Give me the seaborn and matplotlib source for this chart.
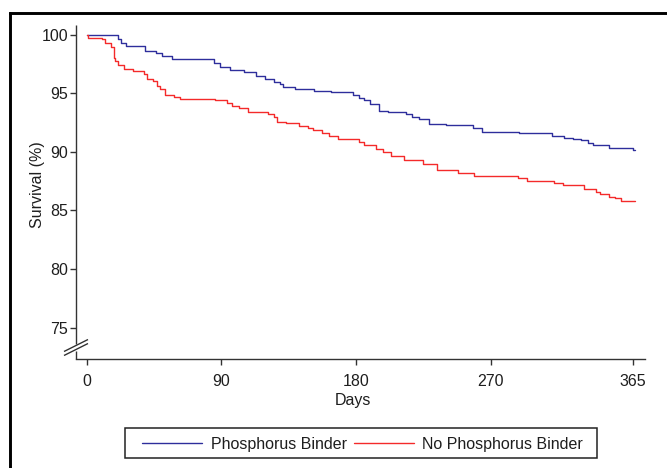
import matplotlib
matplotlib.use("Agg")
import matplotlib.pyplot as plt
from matplotlib.lines import Line2D
from matplotlib.patches import Rectangle
import seaborn as sns
import pandas as pd

# ---- data ----
binder_days = [0, 21, 23, 26, 39, 46, 50, 57, 85, 89, 96, 105, 113, 119, 125, 129, 131, 139,
               152, 163, 178, 182, 185, 189, 195, 201, 213, 217, 222, 229, 240, 258, 264,
               289, 311, 319, 325, 330, 335, 338, 349, 365, 366]
binder_surv = [100, 99.6, 99.25, 99.05, 98.6, 98.4, 98.17, 97.88, 97.55, 97.25, 96.97, 96.77,
               96.49, 96.2, 95.98, 95.75, 95.55, 95.33, 95.21, 95.07, 94.84, 94.62, 94.4, 94.1,
               93.5, 93.37, 93.2, 92.95, 92.8, 92.37, 92.28, 92.07, 91.71, 91.58, 91.37, 91.2,
               91.09, 91.0, 90.78, 90.58, 90.3, 90.15, 90.15]

nobinder_days = [0, 1, 10, 12, 16, 18, 19, 21, 25, 31, 38, 40, 44, 47, 49, 52, 58, 62, 86, 94,
                 97, 102, 108, 121, 125, 127, 133, 142, 148, 151, 157, 162, 168, 182, 185, 193,
                 198, 203, 212, 225, 234, 248, 259, 288, 294, 312, 318, 332, 340, 343, 349,
                 353, 357, 366]
nobinder_surv = [100, 99.73, 99.6, 99.25, 98.96, 97.97, 97.77, 97.4, 97.06, 96.9, 96.63, 96.2,
                 96.04, 95.6, 95.33, 94.84, 94.64, 94.5, 94.42, 94.2, 93.93, 93.76, 93.42, 93.2,
                 93.0, 92.57, 92.48, 92.23, 92.0, 91.86, 91.58, 91.37, 91.09, 90.86, 90.58, 90.2,
                 89.95, 89.64, 89.3, 88.96, 88.45, 88.17, 87.96, 87.74, 87.54, 87.37, 87.17,
                 86.83, 86.6, 86.38, 86.17, 86.04, 85.81, 85.81]

series_labels = ["Phosphorus Binder", "No Phosphorus Binder"]
series_colors = ["#2e2e9c", "#f42a2a"]
x_ticks = [0, 90, 180, 270, 365]
y_ticks = [75, 80, 85, 90, 95, 100]

df = pd.concat([
    pd.DataFrame({"Days": binder_days, "Survival": binder_surv, "group": series_labels[0]}),
    pd.DataFrame({"Days": nobinder_days, "Survival": nobinder_surv, "group": series_labels[1]}),
], ignore_index=True)

sns.set_theme(style="white")
plt.rcParams["font.family"] = ["Liberation Sans", "DejaVu Sans"]
FS = 11.5
plt.rcParams["font.size"] = FS

W, H = 667, 468
fig = plt.figure(figsize=(W / 100, H / 100), dpi=100)
ax = fig.add_axes([76 / W, 1 - 359 / H, (645 - 76) / W, (359 - 25) / H])

sns.lineplot(data=df, x="Days", y="Survival", hue="group", hue_order=series_labels,
             palette=dict(zip(series_labels, series_colors)), estimator=None, sort=False,
             drawstyle="steps-post", linewidth=1.0, legend=False, ax=ax)

ax.set_xlim(-7.15, 373.0)
ax.set_ylim(72.34, 100.81)
ax.set_xticks(x_ticks)
ax.set_yticks(y_ticks)
ax.set_xticklabels([str(t) for t in x_ticks])
ax.set_yticklabels([str(t) for t in y_ticks])

txt_col = "#1e1e1e"
ax.tick_params(axis="both", direction="out", length=4.5, width=1.0, color="#333333",
               labelsize=FS, labelcolor=txt_col, bottom=True, left=True)
ax.tick_params(axis="y", pad=1)
ax.tick_params(axis="x", pad=6)

for s in ["top", "right", "left"]:
    ax.spines[s].set_visible(False)
ax.spines["bottom"].set_color("#333333")
ax.spines["bottom"].set_linewidth(1.0)

# left axis with break
ax_h = 359 - 25
ax_w = 645 - 76
def ay(py):
    return (359 - py) / ax_h
spine_kw = dict(transform=ax.transAxes, color="#333333", linewidth=1.0, clip_on=False,
                solid_capstyle="butt")
ax.plot([0, 0], [ay(344), 1.0], **spine_kw)
ax.plot([0, 0], [0, ay(351)], **spine_kw)
for cy in (345.5, 349.5):
    ax.plot([-12 / ax_w, 12 / ax_w], [ay(cy + 6), ay(cy - 6)], **spine_kw)

ax.set_xlabel("Days", fontsize=FS, color=txt_col)
ax.set_ylabel("Survival (%)", fontsize=FS, color=txt_col)
ax.xaxis.set_label_coords((353 - 76) / ax_w, (359 - 393) / ax_h)
ax.yaxis.set_label_coords((45 - 76) / ax_w, (359 - 184.5) / ax_h)

# legend
handles = [Line2D([], [], color=c, linewidth=1.0) for c in series_colors]
fig.legend(handles, series_labels, loc="center", bbox_to_anchor=(362.5 / W, 1 - 444 / H),
           ncol=2, frameon=False, borderpad=0, handlelength=3.75, handletextpad=0.53,
           columnspacing=0.44, fontsize=FS, labelcolor=txt_col)
fig.patches.append(Rectangle((125 / W, 1 - 458 / H), 472 / W, 30 / H, transform=fig.transFigure,
                             fill=False, edgecolor="#222222", linewidth=1.1))

# outer frame (left and top)
fig.lines.append(Line2D([10.3 / W, 10.3 / W], [0, 1 - 13.3 / H], transform=fig.transFigure,
                        color="black", linewidth=2.1))
fig.lines.append(Line2D([10.3 / W, 1], [1 - 13.3 / H, 1 - 13.3 / H], transform=fig.transFigure,
                        color="black", linewidth=2.1, solid_capstyle="projecting"))

fig.savefig("out.png", dpi=100)
